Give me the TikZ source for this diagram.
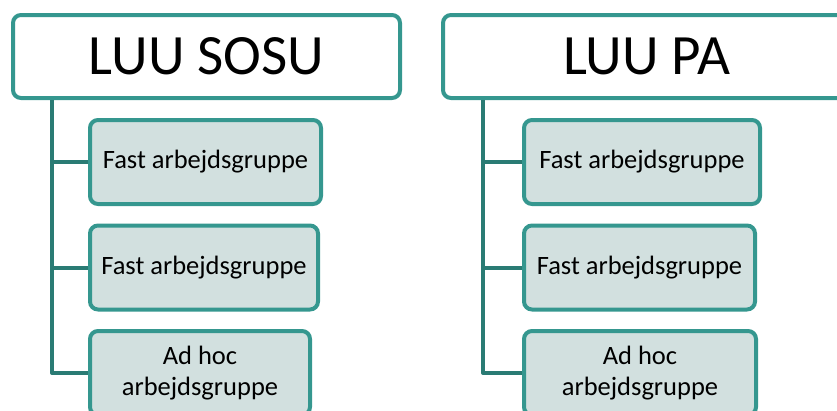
\documentclass[tikz,border=0pt]{standalone}
\usepackage{fontspec}
\setmainfont{Carlito}
\definecolor{boxline}{HTML}{35978F}
\definecolor{connline}{HTML}{2A7B74}
\definecolor{boxfill}{HTML}{D2E0DF}
\begin{document}
\begin{tikzpicture}[x=1pt,y=-1pt,
  headbox/.style={draw=boxline, line width=4pt, rounded corners=8pt, fill=white,
    minimum height=83pt, inner sep=0pt, font=\fontsize{57}{60}\selectfont},
  childbox/.style={draw=boxline, line width=4pt, rounded corners=8pt, fill=boxfill,
    minimum height=84pt, inner sep=0pt, align=center, font=\fontsize{26.5}{31}\selectfont},
  conn/.style={draw=connline, line width=4pt, line join=round}]
\useasboundingbox (0,0) rectangle (837,410);
\begin{scope}
\clip (0,0) rectangle (837,410);
\coordinate (vL) at (52,0);
\coordinate (vR) at (483,0);
\node[headbox, minimum width=387pt] (hL) at (206.5,56.5) {LUU SOSU};
\node[headbox, minimum width=407pt] (hR) at (646.5,56.5) {LUU PA};
\node[childbox, minimum width=231pt] (cL1) at (205.5,162) {Fast arbejdsgruppe};
\node[childbox, minimum width=228pt] (cL2) at (204,267.5) {Fast arbejdsgruppe};
\node[childbox, minimum width=220pt] (cL3) at (200,373) {Ad hoc\\arbejdsgruppe};
\node[childbox, minimum width=236pt] (cR1) at (642,162) {Fast arbejdsgruppe};
\node[childbox, minimum width=231pt] (cR2) at (639.5,267.5) {Fast arbejdsgruppe};
\node[childbox, minimum width=232pt] (cR3) at (640,373) {Ad hoc\\arbejdsgruppe};
\draw[conn] (vL |- hL.south) |- (cL3.west);
\draw[conn] (vL |- cL1.west) -- (cL1.west);
\draw[conn] (vL |- cL2.west) -- (cL2.west);
\draw[conn] (vR |- hR.south) |- (cR3.west);
\draw[conn] (vR |- cR1.west) -- (cR1.west);
\draw[conn] (vR |- cR2.west) -- (cR2.west);
\end{scope}
\end{tikzpicture}
\end{document}
